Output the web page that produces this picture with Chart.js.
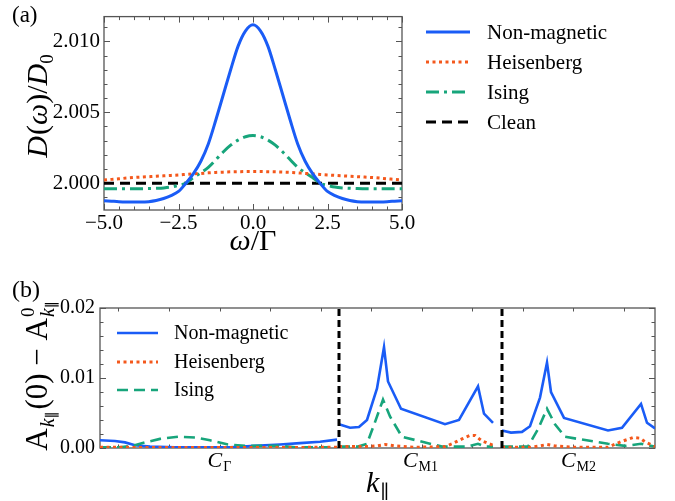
<!DOCTYPE html>
<html>
<head>
<meta charset="utf-8">
<script src="https://cdn.jsdelivr.net/npm/chart.js@4.4.1/dist/chart.umd.min.js"></script>
<style>
body{margin:0;background:#fff;}
#wrap{position:relative;width:675px;height:501px;overflow:hidden;}
#top{position:absolute;left:0;top:0;}
#bot{position:absolute;left:0;top:262px;}
</style>
</head>
<body>
<div id="wrap">
<canvas id="top" width="675" height="262"></canvas>
<canvas id="bot" width="675" height="239"></canvas>
</div>
<script>
// ---- panel (a): D(w)/D0 ----
let omega = [-5,-4.75,-4.5,-4.25,-4,-3.75,-3.5,-3.25,-3,-2.75,-2.5,-2.25,-2,-1.75,-1.5,-1.25,-1,-0.75,-0.5,-0.25,0,
0.25,0.5,0.75,1,1.25,1.5,1.75,2,2.25,2.5,2.75,3,3.25,3.5,3.75,4,4.25,4.5,4.75,5];

let nonMagA = [1.99876,1.99873,1.99870,1.99868,1.99867,1.99867,1.99870,1.99878,1.99892,1.99913,1.99942,2.00000,2.00067,2.00155,2.00277,2.00444,2.00622,2.00800,2.00967,2.01075,2.01118,
2.01075,2.00967,2.00800,2.00622,2.00444,2.00277,2.00155,2.00067,2.00000,1.99942,1.99913,1.99892,1.99878,1.99870,1.99867,1.99867,1.99868,1.99870,1.99873,1.99876];

let heisA = [2.00022,2.00027,2.00031,2.00036,2.00040,2.00043,2.00046,2.00049,2.00052,2.00055,2.00058,2.00062,2.00066,2.00069,2.00073,2.00076,2.00078,2.00080,2.00081,2.00082,2.00082,
2.00082,2.00081,2.00080,2.00078,2.00076,2.00073,2.00069,2.00066,2.00062,2.00058,2.00055,2.00052,2.00049,2.00046,2.00043,2.00040,2.00036,2.00031,2.00027,2.00022];

let isingA = [1.99960,1.99960,1.99960,1.99960,1.99960,1.99961,1.99962,1.99964,1.99967,1.99973,1.99985,2.00000,2.00040,2.00074,2.00112,2.00165,2.00220,2.00268,2.00304,2.00328,2.00336,
2.00328,2.00304,2.00268,2.00220,2.00165,2.00112,2.00074,2.00040,2.00000,1.99985,1.99973,1.99967,1.99964,1.99962,1.99961,1.99960,1.99960,1.99960,1.99960,1.99960];

let cleanW = [-5, 5];
let cleanA = [2.000, 2.000];

let xTicksA = [-5, -2.5, 0, 2.5, 5];
let xMinorA = [-4.5,-4,-3.5,-3,-2,-1.5,-1,-0.5,0.5,1,1.5,2,3,3.5,4,4.5];
let yTicksA = [2.000, 2.005, 2.010];
let yMinorA = [1.999,2.001,2.002,2.003,2.004,2.006,2.007,2.008,2.009,2.011];

// ---- panel (b): A_k(0) - A0_k along the path ----
let kNon = [0,0.15,0.25,0.35,0.50,0.75,1.00,1.30,1.55,1.80,2.00,2.20,2.37, 2.38,
2.39,2.50,2.59,2.67,2.77,2.84,2.88,3.01,3.45,3.59,3.78,3.84,3.93, 3.97,
4.02,4.11,4.22,4.30,4.40,4.47,4.51,4.64,5.08,5.22,5.41,5.47,5.55];
let nonMagB = [0.0011,0.0010,0.0008,0.0004,0.0002,0.0001,0.0001,0.0001,0.0003,0.0005,0.0007,0.0009,0.0012, null,
0.0034,0.0029,0.0030,0.0040,0.0085,0.0144,0.0095,0.0056,0.0034,0.0040,0.0088,0.0049,0.0036, null,
0.0025,0.0022,0.0023,0.0031,0.0072,0.0122,0.0080,0.0043,0.0025,0.0029,0.0063,0.0036,0.0028];

let kHeis = [0,0.6,1.2,1.8,2.37, 2.38,
2.39,2.67,2.77,2.85,2.95,3.15,3.45,3.52,3.62,3.70,3.75,3.82,3.93, 3.97,
4.02,4.30,4.40,4.47,4.55,4.75,5.08,5.21,5.33,5.40,5.46,5.55];
let heisB = [0.0001,0.00008,0.00006,0.00008,0.0001, null,
0.0002,0.0002,0.0003,0.0005,0.0003,0.0001,0.0002,0.0006,0.0013,0.0018,0.0018,0.0010,0.0004, null,
0.0001,0.0001,0.0003,0.0005,0.0003,0.0001,0.0001,0.0009,0.0015,0.0014,0.0008,0.0002];

let kIsing = [0,0.20,0.32,0.45,0.60,0.78,0.95,1.10,1.28,1.45,1.82,1.95,2.37, 2.38,
2.39,2.58,2.67,2.75,2.83,2.90,3.02,3.42,3.68,3.78,3.85,3.93, 3.97,
4.02,4.28,4.38,4.47,4.55,4.65,5.08,5.25,5.41,5.47,5.55];
let isingB = [0.0001,0.0001,0.0003,0.0008,0.0013,0.0016,0.0015,0.0011,0.0005,0.0003,0.0003,0.0001,0.0001, null,
0.0002,0.0002,0.0006,0.0037,0.0069,0.0045,0.0016,0.0002,0.0002,0.0006,0.0002,0.0002, null,
0.0002,0.0002,0.0027,0.0056,0.0034,0.0016,0.0006,0.0003,0.0006,0.0004,0.0002];

let segEdges = [0, 2.39, 4.02, 5.55];
let segSubs = ["\u0393", "M1", "M2"];
let yTicksB = [0, 0.01, 0.02];
let yMinorB = [0.002,0.004,0.006,0.008,0.012,0.014,0.016,0.018];
let xMinorB = [0.18,0.69,1.20,1.70,2.21,2.71,3.22,3.72,4.23,4.73,5.24];

const BLUE = "#1a5cf6", ORANGE = "#f4581c", GREEN = "#17a57b", SERIF = "'Liberation Serif', 'DejaVu Serif', serif";

function pts(xs, ys){
  return xs.map((x,i)=>({x:x, y:ys[i]}));
}

// text made of pieces (italic, sub/superscripts), centred on (x,y), baseline at y
function drawRich(ctx, parts, x, y, rot){
  ctx.save();
  ctx.translate(x, y);
  ctx.rotate(rot || 0);
  let w = 0;
  parts.forEach(p=>{ ctx.font = p.f; if(!p.stack) w += ctx.measureText(p.t).width + (p.g||0); });
  let cx = -w/2;
  ctx.fillStyle = "#000";
  ctx.textBaseline = "alphabetic";
  ctx.textAlign = "left";
  parts.forEach(p=>{
    ctx.font = p.f;
    ctx.fillText(p.t, cx, p.dy || 0);
    if(!p.stack) cx += ctx.measureText(p.t).width + (p.g||0);
  });
  ctx.restore();
}

// mathematica-like frame with inward ticks
const framePlugin = {
  id: "frame",
  beforeDatasetsDraw(chart, args, o){
    const {ctx, chartArea:a, scales:{x, y}} = chart;
    ctx.save();
    ctx.strokeStyle = "#555";
    ctx.lineWidth = 1.3;
    ctx.strokeRect(a.left, a.top, a.right-a.left, a.bottom-a.top);
    ctx.lineWidth = 1;
    const xt = (vals, len) => vals.forEach(v=>{
      let px = Math.round(x.getPixelForValue(v)) + 0.5;
      ctx.beginPath();
      ctx.moveTo(px, a.bottom); ctx.lineTo(px, a.bottom - len);
      ctx.moveTo(px, a.top); ctx.lineTo(px, a.top + len);
      ctx.stroke();
    });
    const yt = (vals, len) => vals.forEach(v=>{
      let py = Math.round(y.getPixelForValue(v)) + 0.5;
      ctx.beginPath();
      ctx.moveTo(a.left, py); ctx.lineTo(a.left + len, py);
      ctx.moveTo(a.right, py); ctx.lineTo(a.right - len, py);
      ctx.stroke();
    });
    xt(o.xMajor || [], 6); xt(o.xMinor || [], 3.5);
    yt(o.yMajor || [], 6); yt(o.yMinor || [], 3.5);
    ctx.restore();
  },
  afterDraw(chart, args, o){
    const ctx = chart.ctx;
    // legend
    if(o.legend){
      const L = o.legend;
      let row = 0;
      chart.data.datasets.forEach(ds=>{
        if(!ds.label) return;
        let yy = L.ys[row++];
        ctx.save();
        ctx.strokeStyle = ds.borderColor;
        ctx.lineWidth = ds.borderWidth;
        ctx.setLineDash(ds.borderDash || []);
        ctx.beginPath(); ctx.moveTo(L.x0, yy); ctx.lineTo(L.x1, yy); ctx.stroke();
        ctx.restore();
        ctx.save();
        ctx.fillStyle = "#000";
        ctx.font = L.font;
        ctx.textBaseline = "middle";
        ctx.fillText(ds.label, L.tx, yy + 1);
        ctx.restore();
      });
    }
    if(o.texts) o.texts(chart, ctx);
  }
};

const baseScale = {
  grid: {display:false, drawTicks:false},
  border: {display:false}
};

// ---------- chart (a) ----------
new Chart(document.getElementById("top"), {
  type: "line",
  data: {
    datasets: [
      {label:"Non-magnetic", data:pts(omega, nonMagA), borderColor:BLUE, borderWidth:3},
      {label:"Heisenberg", data:pts(omega, heisA), borderColor:ORANGE, borderWidth:3, borderDash:[3,3.5]},
      {label:"Ising", data:pts(omega, isingA), borderColor:GREEN, borderWidth:3, borderDash:[13,5,3,5]},
      {label:"Clean", data:pts(cleanW, cleanA), borderColor:"#000", borderWidth:3, borderDash:[10,6]}
    ]
  },
  options: {
    responsive:false, animation:false,
    layout:{padding:{left:0, right:273, top:5, bottom:0}},
    elements:{point:{radius:0}, line:{cubicInterpolationMode:"monotone", fill:false}},
    scales:{
      x:{...baseScale, type:"linear", min:-5, max:5,
        afterBuildTicks: s => { s.ticks = xTicksA.map(v=>({value:v})); },
        afterFit: s => { s.height = 52; },
        ticks:{padding:1, color:"#000", font:{family:SERIF, size:21},
          callback: v => (v < 0 ? "\u2212" : "") + Math.abs(v).toFixed(1)}
      },
      y:{...baseScale, type:"linear", min:1.99811, max:2.01175,
        afterBuildTicks: s => { s.ticks = yTicksA.map(v=>({value:v})); },
        afterFit: s => { s.width = 104; },
        ticks:{padding:4, color:"#000", font:{family:SERIF, size:21},
          callback: v => v.toFixed(3)}
      }
    },
    plugins:{
      legend:{display:false}, tooltip:{enabled:false},
      frame:{
        xMajor:xTicksA, xMinor:xMinorA, yMajor:yTicksA, yMinor:yMinorA,
        legend:{x0:426, x1:470, tx:487, ys:[32,62,92,122], font:"21px " + SERIF},
        texts:(chart, ctx)=>{
          ctx.save(); ctx.fillStyle="#000"; ctx.font = "23px " + SERIF;
          ctx.fillText("(a)", 12, 22); ctx.restore();
          const it = "italic 30px " + SERIF, rm = "30px " + SERIF, sm = "19px " + SERIF;
          drawRich(ctx, [{t:"D",f:it,g:1},{t:"(",f:rm},{t:"\u03c9",f:it},{t:")",f:rm},{t:"/",f:rm},{t:"D",f:it},{t:"0",f:sm,dy:6}],
            47, 106, -Math.PI/2);
          const a = chart.chartArea;
          drawRich(ctx, [{t:"\u03c9",f:it},{t:"/",f:rm},{t:"\u0393",f:rm}], (a.left+a.right)/2, 250, 0);
        }
      }
    }
  },
  plugins:[framePlugin]
});

// ---------- chart (b) ----------
const bounds = segEdges.slice(1, 3).map(k => ({
  data:[{x:k, y:0}, {x:k, y:0.02}], borderColor:"#000", borderWidth:3, borderDash:[7,4], order:0
}));

new Chart(document.getElementById("bot"), {
  type: "line",
  data: {
    datasets: [
      ...bounds,
      {label:"Non-magnetic", data:pts(kNon, nonMagB), borderColor:BLUE, borderWidth:2.6, order:3},
      {label:"Heisenberg", data:pts(kHeis, heisB), borderColor:ORANGE, borderWidth:3, borderDash:[3,3.5], order:1},
      {label:"Ising", data:pts(kIsing, isingB), borderColor:GREEN, borderWidth:2.6, borderDash:[11,6], order:2}
    ]
  },
  options: {
    responsive:false, animation:false,
    layout:{padding:{left:0, right:20, top:46, bottom:0}},
    elements:{point:{radius:0}, line:{tension:0, fill:false}},
    spanGaps:false,
    scales:{
      x:{...baseScale, type:"linear", min:segEdges[0], max:segEdges[3],
        afterFit: s => { s.height = 53; },
        ticks:{display:false}
      },
      y:{...baseScale, type:"linear", min:0, max:0.02,
        afterBuildTicks: s => { s.ticks = yTicksB.map(v=>({value:v})); },
        afterFit: s => { s.width = 100; },
        ticks:{padding:5, color:"#000", font:{family:SERIF, size:20},
          callback: v => v.toFixed(2)}
      }
    },
    plugins:{
      legend:{display:false}, tooltip:{enabled:false},
      frame:{
        yMajor:yTicksB, yMinor:yMinorB, xMinor:xMinorB,
        legend:{x0:117, x1:158, tx:174, ys:[71,100,128], font:"20px " + SERIF},
        texts:(chart, ctx)=>{
          ctx.save(); ctx.fillStyle="#000"; ctx.font = "24px " + SERIF;
          ctx.fillText("(b)", 12, 35); ctx.restore();
          const x = chart.scales.x, a = chart.chartArea;
          const ci = "italic 22px " + SERIF, cs = "14px " + SERIF;
          segSubs.forEach((sub, i)=>{
            let mid = x.getPixelForValue((segEdges[i] + segEdges[i+1]) / 2);
            drawRich(ctx, [{t:"C",f:ci,g:1},{t:sub,f:cs,dy:4}], mid, 205, 0);
          });
          const it = "italic 30px " + SERIF, rm = "31px " + SERIF, si = "italic 20px " + SERIF, sm = "19px " + SERIF, sp = "15px " + SERIF;
          drawRich(ctx, [{t:"k",f:it,g:1},{t:"\u2225",f:sm,dy:6}], (a.left+a.right)/2, 230, 0);
          drawRich(ctx, [
            {t:"A",f:rm,g:1},{t:"k",f:si,dy:7},{t:"\u2225",f:sp,dy:10,g:2},
            {t:"(0) \u2212 A",f:rm,g:1},
            {t:"0",f:sm,dy:-13,stack:true},
            {t:"k",f:si,dy:7},{t:"\u2225",f:sp,dy:10}
          ], 47, 114, -Math.PI/2);
        }
      }
    }
  },
  plugins:[framePlugin]
});
</script>
</body>
</html>
